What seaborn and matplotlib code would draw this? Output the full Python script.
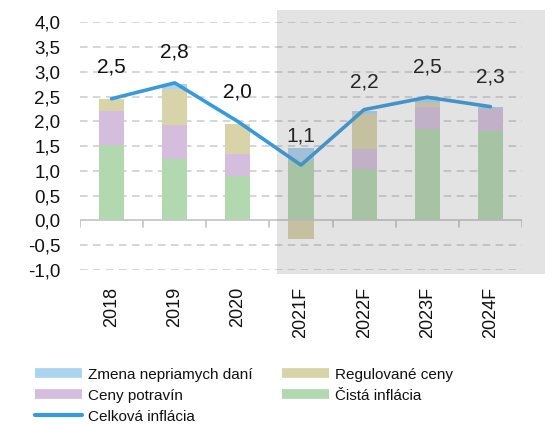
import numpy as np
import pandas as pd
import matplotlib
matplotlib.use("Agg")
import matplotlib.pyplot as plt
from matplotlib.lines import Line2D
from matplotlib.patches import Rectangle
from matplotlib.ticker import FuncFormatter
import seaborn as sns

years = ["2018", "2019", "2020", "2021F", "2022F", "2023F", "2024F"]
cista = [1.53, 1.24, 0.89, 1.21, 1.05, 1.84, 1.80]
potraviny = [0.68, 0.69, 0.45, 0.00, 0.39, 0.45, 0.46]
regulovane = [0.25, 0.73, 0.60, -0.37, 0.71, 0.08, 0.00]
dane = [0.00, 0.09, 0.00, 0.26, 0.07, 0.08, 0.03]
celkova = [2.46, 2.78, 2.00, 1.12, 2.24, 2.49, 2.30]
labels = ["2,5", "2,8", "2,0", "1,1", "2,2", "2,5", "2,3"]
yticks = [-1.0, -0.5, 0.0, 0.5, 1.0, 1.5, 2.0, 2.5, 3.0, 3.5, 4.0]

sns.set_theme(style="white")
plt.rcParams["font.family"] = ["Liberation Sans", "DejaVu Sans"]

c_dane = "#acd3ef"
c_reg = "#d9d3aa"
c_pot = "#d5bddd"
c_cis = "#b2d8b0"
c_line = "#389ada"

fig = plt.figure(figsize=(5.58, 4.25), dpi=100)
W, H = 558, 425
ax = fig.add_axes([80 / W, 1 - 270 / H, (522 - 80) / W, (270 - 22.5) / H])

layers = [cista, potraviny, regulovane, dane]
colors = [c_cis, c_pot, c_reg, c_dane]
arr = np.array(layers)
pos = np.clip(arr, 0, None)
neg = np.clip(arr, None, 0)
pos_cum = np.cumsum(pos, axis=0)
neg_cum = np.cumsum(neg, axis=0)

# draw cumulative layers from top down so each visible segment shows
for i in range(len(layers) - 1, -1, -1):
    df = pd.DataFrame({"year": years, "v": pos_cum[i]})
    sns.barplot(data=df, x="year", y="v", color=colors[i], saturation=1,
                width=0.4, ax=ax, zorder=2, linewidth=0)
    dfn = pd.DataFrame({"year": years, "v": neg_cum[i]})
    sns.barplot(data=dfn, x="year", y="v", color=colors[i], saturation=1,
                width=0.4, ax=ax, zorder=2, linewidth=0)

sns.lineplot(x=np.arange(len(years)), y=celkova, color=c_line, linewidth=2.6,
             ax=ax, zorder=4, sort=False)
for i, (v, t) in enumerate(zip(celkova, labels)):
    lv = float(t.replace(",", ".")) + 0.6
    ax.text(i, lv, t, ha="center", va="center", fontsize=15, color="#111111", zorder=5)

ax.set_xlim(-0.5, len(years) - 0.5)
ax.set_ylim(-1.0, 4.0)
ax.set_yticks(yticks)
ax.yaxis.set_major_formatter(FuncFormatter(lambda v, p: f"{v:.1f}".replace(".", ",")))
for y in yticks:
    if y != 0:
        ax.axhline(y, color="#cccccc", linewidth=1.1, dashes=(5, 3.5), zorder=1)
ax.axhline(0, color="#c8c8c8", linewidth=1.3, zorder=3)
for b in np.arange(-0.5, len(years), 1.0):
    ax.plot([b, b], [0, -0.13], color="#c8c8c8", linewidth=1.3, zorder=3)

for s in ax.spines.values():
    s.set_visible(False)
ax.set_xlabel("")
ax.set_ylabel("")
ax.tick_params(axis="x", length=0, pad=12, labelsize=13, rotation=90, labelcolor="#111111")
ax.tick_params(axis="y", length=0, pad=14, labelsize=13.5, labelcolor="#111111")
for lab in ax.get_yticklabels():
    lab.set_horizontalalignment("right")

fig.patches.append(Rectangle((277 / W, 1 - 274 / H), (545 - 277) / W, (274 - 10) / H,
                             transform=fig.transFigure, facecolor="#777777", alpha=0.2,
                             edgecolor="none", zorder=10))

handles = [
    Line2D([], [], color=c_dane, linewidth=7, solid_capstyle="butt"),
    Line2D([], [], color=c_pot, linewidth=7, solid_capstyle="butt"),
    Line2D([], [], color=c_line, linewidth=3, solid_capstyle="round"),
    Line2D([], [], color=c_reg, linewidth=7, solid_capstyle="butt"),
    Line2D([], [], color=c_cis, linewidth=7, solid_capstyle="butt"),
]
names = ["Zmena nepriamych daní", "Ceny potravín", "Celková inflácia",
         "Regulované ceny", "Čistá inflácia"]
fig.legend(handles, names, ncol=2, loc="upper left",
           bbox_to_anchor=(21 / W, 1 - 354 / H), frameon=False, fontsize=11,
           handlelength=3.07, handletextpad=0.4, columnspacing=1.96,
           labelspacing=0.46, labelcolor="#111111")

fig.savefig("out.png", dpi=100)
